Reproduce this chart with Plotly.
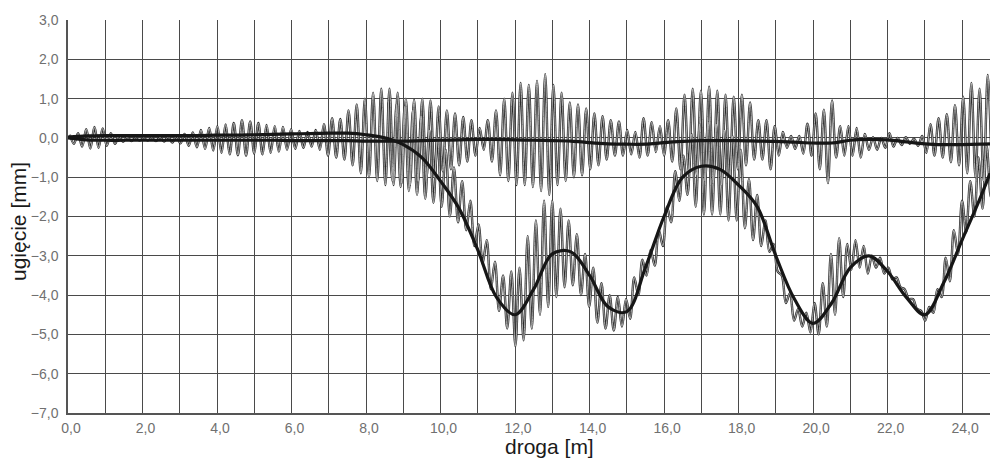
import numpy as np
import plotly.graph_objects as go

# ---- data ----
x_ticks = [0, 2, 4, 6, 8, 10, 12, 14, 16, 18, 20, 22, 24]
y_ticks = [3, 2, 1, 0, -1, -2, -3, -4, -5, -6, -7]

# smooth (averaged) curves, sampled every 0.5 m, last point at 24.75 m
smooth_x = [0.0, 0.5, 1.0, 1.5, 2.0, 2.5, 3.0, 3.5, 4.0, 4.5, 5.0, 5.5, 6.0, 6.5, 7.0, 7.5,
            8.0, 8.5, 9.0, 9.5, 10.0, 10.5, 11.0, 11.5, 12.0, 12.5, 13.0, 13.5, 14.0, 14.5,
            15.0, 15.5, 16.0, 16.5, 17.0, 17.5, 18.0, 18.5, 19.0, 19.5, 20.0, 20.5, 21.0,
            21.5, 22.0, 22.5, 23.0, 23.5, 24.0, 24.5, 24.75]
smooth_a = [0.0, -0.05, -0.06, -0.06, -0.06, -0.06, -0.06, -0.06, -0.06, -0.06, -0.06, -0.06,
            -0.07, -0.07, -0.07, -0.07, -0.08, -0.08, -0.08, -0.07, -0.06, -0.05, -0.04, -0.04,
            -0.05, -0.06, -0.07, -0.08, -0.12, -0.15, -0.16, -0.16, -0.12, -0.09, -0.07, -0.07,
            -0.07, -0.08, -0.09, -0.11, -0.13, -0.13, -0.06, -0.04, -0.05, -0.10, -0.15, -0.17,
            -0.17, -0.16, -0.15]
smooth_b = [0.02, 0.05, 0.06, 0.06, 0.06, 0.06, 0.06, 0.06, 0.07, 0.07, 0.08, 0.09, 0.10, 0.11,
            0.12, 0.12, 0.08, 0.0, -0.17, -0.5, -1.1, -1.8, -2.85, -4.05, -4.5, -3.85, -2.95,
            -2.9, -3.5, -4.3, -4.42, -3.3, -2.0, -1.0, -0.72, -0.8, -1.2, -1.75, -3.0, -4.1,
            -4.72, -4.2, -3.3, -3.0, -3.4, -4.05, -4.5, -3.7, -2.6, -1.5, -0.9]

# oscillating (raw) signals: successive extremes (peak, trough, ...) every 0.11 m
osc_step = 0.11
osc1_start = 0.05
osc1_y = [
    0.08, -0.15, 0.12, -0.22, 0.22, -0.27, 0.28, -0.25, 0.24, -0.20,   # 0.05 m
    0.12, -0.15, 0.05, -0.10, 0.02, -0.08, 0.00, -0.07, 0.00, -0.07,   # 1.15 m
    0.00, -0.08, 0.01, -0.09, 0.03, -0.12, 0.05, -0.14, 0.10, -0.20,   # 2.25 m
    0.14, -0.24, 0.20, -0.28, 0.25, -0.32, 0.30, -0.38, 0.34, -0.42,   # 3.35 m
    0.38, -0.44, 0.45, -0.45, 0.42, -0.40, 0.38, -0.42, 0.33, -0.38,   # 4.45 m
    0.30, -0.35, 0.28, -0.30, 0.22, -0.28, 0.18, -0.25, 0.15, -0.22,   # 5.55 m
    0.20, -0.30, 0.35, -0.45, 0.50, -0.50, 0.48, -0.55, 0.70, -0.70,   # 6.65 m
    0.85, -0.90, 1.00, -1.00, 1.15, -1.10, 1.25, -1.20, 1.25, -1.20,   # 7.75 m
    1.15, -1.15, 1.00, -1.20, 0.97, -1.10, 1.00, -1.05, 0.95, -1.00,   # 8.85 m
    0.80, -0.85, 0.70, -0.80, 0.62, -0.70, 0.53, -0.60, 0.45, -0.45,   # 9.95 m
    0.25, -0.30, 0.45, -0.60, 0.70, -0.95, 1.00, -1.10, 1.15, -1.20,   # 11.05 m
    1.40, -1.20, 1.35, -1.25, 1.45, -1.35, 1.62, -1.45, 1.35, -1.20,   # 12.15 m
    1.15, -1.10, 0.90, -1.00, 0.85, -0.95, 0.75, -0.80, 0.62, -0.70,   # 13.25 m
    0.55, -0.55, 0.45, -0.45, 0.42, -0.45, 0.20, -0.42, 0.15, -0.50,   # 14.35 m
    0.50, -0.45, 0.40, -0.36, 0.30, -0.45, 0.45, -0.60, 0.75, -0.80,   # 15.45 m
    1.10, -0.85, 1.25, -0.95, 1.20, -1.10, 1.30, -1.15, 1.20, -1.20,   # 16.55 m
    1.10, -1.00, 1.05, -0.80, 1.10, -0.70, 0.90, -0.55, 0.45, -0.55,   # 17.65 m
    0.45, -0.80, 0.30, -0.45, 0.15, -0.25, 0.05, -0.28, 0.05, -0.40,   # 18.75 m
    0.36, -0.45, 0.62, -0.80, 0.72, -1.15, 0.95, -0.50, 0.30, -0.45,   # 19.85 m
    0.30, -0.45, 0.25, -0.50, 0.10, -0.30, 0.02, -0.30, 0.00, -0.25,   # 20.95 m
    0.12, -0.22, 0.00, -0.18, 0.02, -0.15, -0.02, -0.20, 0.05, -0.38,  # 22.05 m
    0.35, -0.45, 0.50, -0.50, 0.60, -0.62, 0.83, -0.70, 1.05, -0.90,   # 23.15 m
    1.40, -1.00, 1.25, -1.10, 1.60, -1.00,                             # 24.25 m
]
osc2_start = 8.60
osc2_y = [
    0.90, -1.10, 0.85, -1.25, 0.80, -1.35, 0.70, -1.45, 0.55, -1.55,   # 8.60 m
    0.20, -1.65, 0.00, -1.75, -0.30, -2.00, -0.75, -2.15, -1.10, -2.35,  # 9.70 m
    -1.60, -2.75, -2.20, -3.20, -2.60, -3.85, -3.15, -4.40, -3.50, -4.85,  # 10.80 m
    -3.40, -5.30, -3.30, -5.15, -2.50, -4.85, -2.10, -4.50, -1.60, -4.30,  # 11.90 m
    -1.60, -4.05, -1.80, -3.80, -2.10, -3.75, -2.45, -4.00, -2.95, -4.30,  # 13.00 m
    -3.30, -4.70, -3.70, -4.85, -4.00, -4.90, -4.05, -4.80, -4.10, -4.60,  # 14.10 m
    -3.55, -4.00, -3.10, -3.50, -2.85, -3.25, -2.35, -2.75, -1.75, -2.15,  # 15.20 m
    -0.85, -1.60, -0.45, -1.45, 0.10, -1.75, 0.35, -1.95, 0.40, -1.95,     # 16.30 m
    0.35, -1.95, 0.20, -2.10, 0.05, -2.10, -0.30, -2.30, -1.05, -2.60,     # 17.40 m
    -1.45, -2.75, -2.10, -2.90, -2.70, -3.40, -3.50, -4.20, -3.95, -4.65,  # 18.50 m
    -4.35, -4.80, -4.45, -4.95, -4.20, -5.00, -3.70, -4.80, -2.95, -4.50,  # 19.60 m
    -2.55, -4.05, -2.70, -3.35, -2.60, -3.30, -2.75, -3.45, -3.00, -3.30,  # 20.70 m
    -3.05, -3.45, -3.30, -3.60, -3.55, -3.80, -3.85, -4.10, -4.10, -4.35,  # 21.80 m
    -4.40, -4.65, -4.30, -4.45, -3.85, -4.05, -3.05, -3.65, -2.35, -2.95,  # 22.90 m
    -1.60, -2.40, -1.10, -2.00, -0.50, -1.80, -0.20, -1.50, 0.10, -1.20,   # 24.00 m
]

osc1_x = [osc1_start + i * osc_step for i in range(len(osc1_y))]
osc2_x = [osc2_start + i * osc_step for i in range(len(osc2_y))]

fig = go.Figure()

# raw signals: drawn as a dark outline with a light core (hollow look of the scan)
for xs, ys in ((osc1_x, osc1_y), (osc2_x, osc2_y)):
    fig.add_trace(go.Scatter(x=xs, y=ys, mode="lines",
                             line=dict(color="#2b2b2b", width=2.4, shape="spline", smoothing=1.0),
                             hoverinfo="skip", showlegend=False))
for xs, ys in ((osc1_x, osc1_y), (osc2_x, osc2_y)):
    fig.add_trace(go.Scatter(x=xs, y=ys, mode="lines",
                             line=dict(color="#bcbcbc", width=0.9, shape="spline", smoothing=1.0),
                             hoverinfo="skip", showlegend=False))

# smoothed curves
for ys in (smooth_a, smooth_b):
    fig.add_trace(go.Scatter(x=smooth_x, y=ys, mode="lines",
                             line=dict(color="#161616", width=3.2, shape="spline", smoothing=1.0),
                             showlegend=False))

grid_col = "#4a4a4a"
tick_font = dict(family="Liberation Sans Narrow, Arial Narrow, Liberation Sans, Arial, sans-serif",
                 size=14, color="#707070")
title_font = dict(family="Liberation Sans, Arial, sans-serif", size=21, color="#1a1a1a")

fig.update_layout(
    width=990, height=459,
    margin=dict(l=68, r=0, t=20, b=46),
    paper_bgcolor="white", plot_bgcolor="white",
    separators=", ",
    xaxis=dict(range=[0, 24.75], tickmode="array", tickvals=x_ticks,
               ticktext=[f"{v:.1f}".replace(".", ",") for v in x_ticks],
               showgrid=True, gridcolor=grid_col, gridwidth=1,
               minor=dict(dtick=1, tick0=0, showgrid=True, gridcolor=grid_col, gridwidth=1),
               showline=True, linecolor="#555555", linewidth=1.5, zeroline=False,
               ticks="", tickfont=tick_font, ticklabelstandoff=1, ticklabelshift=3),
    yaxis=dict(range=[-7, 3], tickmode="array", tickvals=y_ticks,
               ticktext=[f"{v:.1f}".replace(".", ",").replace("-", "\u2212") for v in y_ticks],
               showgrid=True, gridcolor=grid_col, gridwidth=1,
               showline=True, linecolor="#555555", linewidth=1.5, zeroline=False,
               ticks="", tickfont=tick_font, ticklabelstandoff=5),
    annotations=[
        dict(text="droga [m]", xref="paper", yref="paper",
             x=(549 - 68) / 922, y=-(446 - 413) / 393,
             xanchor="center", yanchor="middle", showarrow=False, font=title_font),
        dict(text="ugięcie [mm]", xref="paper", yref="paper", textangle=-90,
             x=(18 - 68) / 922, y=(413 - 222) / 393,
             xanchor="center", yanchor="middle", showarrow=False, font=title_font),
    ],
)

fig.write_html("out.html")
